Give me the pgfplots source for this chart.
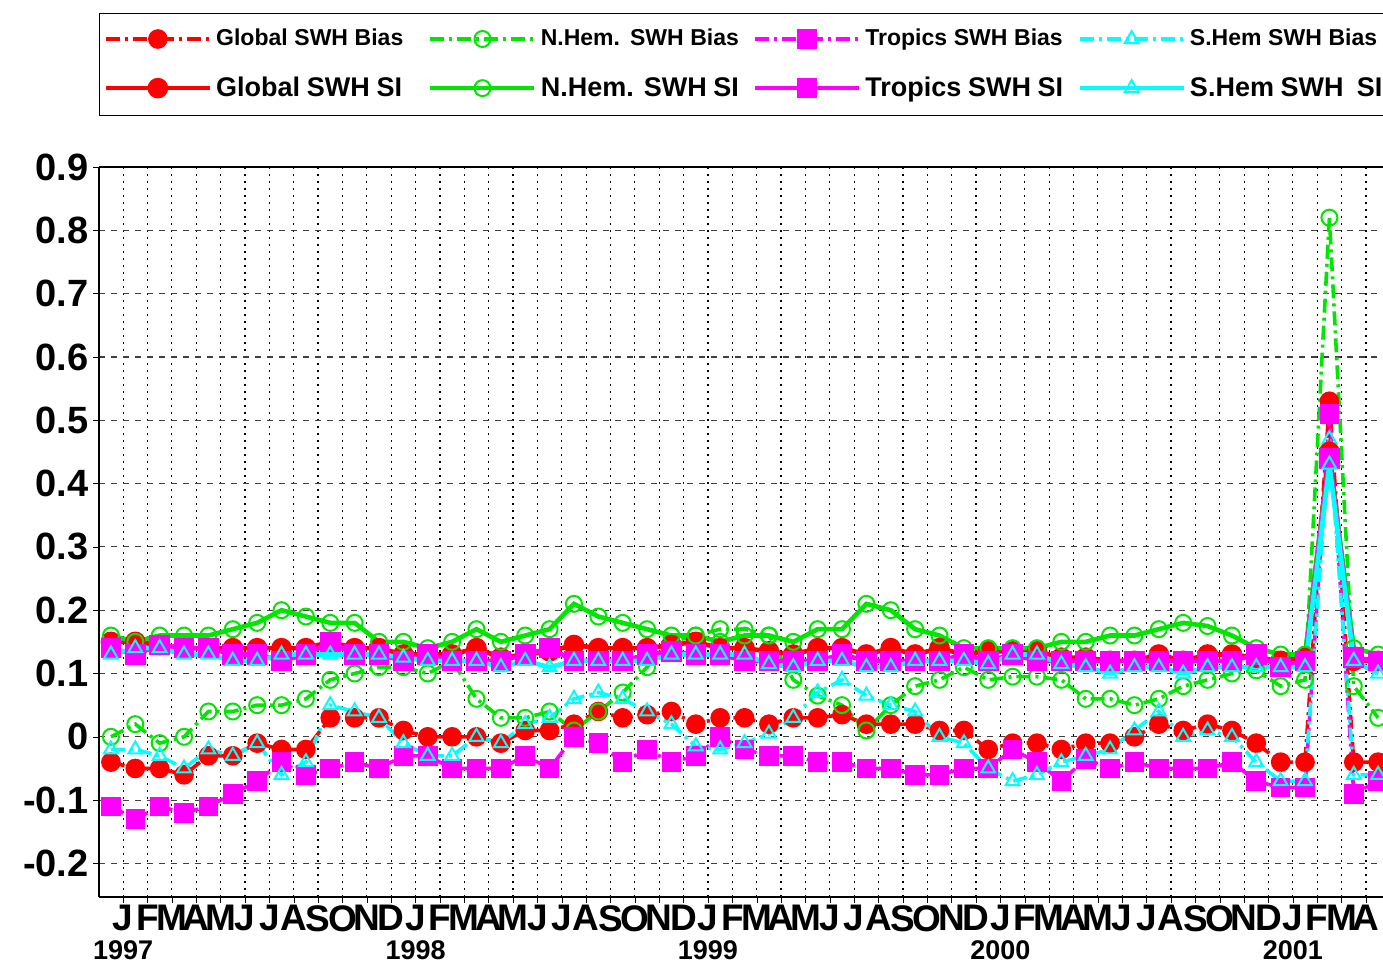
\documentclass[border=0pt]{standalone}
\usepackage{pgfplots}
\pgfplotsset{compat=1.18}
\usepackage{pgfplotstable}
\usepackage{fontspec}
\setmainfont{Liberation Sans}
\definecolor{cgreen}{RGB}{0,230,0}
\definecolor{cmag}{RGB}{255,0,255}
\definecolor{ccyan}{RGB}{0,255,255}
\definecolor{cred}{RGB}{255,0,0}
\pgfplotstableread{
k gb nb tb sb gs ns ts ss
0 -0.04 0.00 -0.11 -0.02 0.15 0.16 0.14 0.13
1 -0.05 0.02 -0.13 -0.02 0.15 0.15 0.13 0.14
2 -0.05 -0.01 -0.11 -0.03 0.145 0.16 0.145 0.14
3 -0.06 0.00 -0.12 -0.05 0.14 0.16 0.14 0.13
4 -0.03 0.04 -0.11 -0.02 0.14 0.16 0.14 0.13
5 -0.03 0.04 -0.09 -0.03 0.14 0.17 0.13 0.12
6 -0.01 0.05 -0.07 -0.01 0.14 0.18 0.13 0.12
7 -0.02 0.05 -0.04 -0.06 0.14 0.20 0.12 0.13
8 -0.02 0.06 -0.06 -0.04 0.14 0.19 0.13 0.13
9 0.03 0.09 -0.05 0.05 0.15 0.18 0.15 0.13
10 0.03 0.10 -0.04 0.04 0.14 0.18 0.13 0.13
11 0.03 0.11 -0.05 0.03 0.14 0.15 0.13 0.13
12 0.01 0.11 -0.03 -0.01 0.13 0.15 0.12 0.125
13 0.00 0.10 -0.03 -0.03 0.13 0.14 0.13 0.12
14 0.00 0.12 -0.05 -0.03 0.13 0.15 0.12 0.12
15 0.00 0.06 -0.05 0.00 0.14 0.17 0.12 0.12
16 -0.01 0.03 -0.05 -0.01 0.125 0.15 0.12 0.11
17 0.01 0.03 -0.03 0.02 0.13 0.16 0.13 0.12
18 0.01 0.04 -0.05 0.03 0.135 0.17 0.14 0.11
19 0.02 0.01 0.00 0.06 0.145 0.21 0.12 0.12
20 0.04 0.04 -0.01 0.07 0.14 0.19 0.12 0.12
21 0.03 0.07 -0.04 0.06 0.14 0.18 0.12 0.12
22 0.035 0.11 -0.02 0.04 0.14 0.17 0.13 0.12
23 0.04 0.15 -0.04 0.02 0.145 0.16 0.135 0.13
24 0.02 0.16 -0.03 -0.015 0.15 0.16 0.13 0.13
25 0.03 0.17 0.00 -0.02 0.14 0.15 0.13 0.13
26 0.03 0.17 -0.02 -0.01 0.14 0.16 0.12 0.13
27 0.02 0.16 -0.03 0.005 0.135 0.16 0.12 0.115
28 0.03 0.09 -0.03 0.03 0.13 0.15 0.12 0.11
29 0.03 0.065 -0.04 0.07 0.14 0.17 0.12 0.12
30 0.035 0.05 -0.04 0.09 0.14 0.17 0.13 0.12
31 0.02 0.01 -0.05 0.065 0.13 0.21 0.12 0.11
32 0.02 0.05 -0.05 0.05 0.14 0.20 0.12 0.11
33 0.02 0.08 -0.06 0.04 0.13 0.17 0.12 0.12
34 0.01 0.09 -0.06 0.00 0.14 0.16 0.12 0.12
35 0.01 0.11 -0.05 -0.01 0.13 0.14 0.13 0.12
36 -0.02 0.09 -0.05 -0.05 0.135 0.14 0.12 0.115
37 -0.01 0.095 -0.02 -0.07 0.135 0.14 0.13 0.13
38 -0.01 0.095 -0.04 -0.06 0.135 0.14 0.12 0.13
39 -0.02 0.09 -0.07 -0.04 0.125 0.15 0.12 0.115
40 -0.01 0.06 -0.035 -0.03 0.125 0.15 0.12 0.11
41 -0.01 0.06 -0.05 -0.02 0.12 0.16 0.12 0.10
42 0.00 0.05 -0.04 0.01 0.12 0.16 0.12 0.11
43 0.02 0.06 -0.05 0.04 0.13 0.17 0.12 0.11
44 0.01 0.08 -0.05 0.00 0.12 0.18 0.12 0.10
45 0.02 0.09 -0.05 0.01 0.13 0.175 0.12 0.11
46 0.01 0.10 -0.04 0.00 0.13 0.16 0.12 0.11
47 -0.01 0.105 -0.07 -0.04 0.125 0.14 0.13 0.11
48 -0.04 0.08 -0.08 -0.07 0.12 0.13 0.11 0.11
49 -0.04 0.09 -0.08 -0.07 0.125 0.13 0.12 0.11
50 0.53 0.82 0.51 0.47 0.45 0.44 0.44 0.43
51 -0.04 0.08 -0.09 -0.06 0.12 0.14 0.125 0.12
52 -0.04 0.03 -0.07 -0.06 0.12 0.13 0.12 0.10
}\data
\newcommand{\yr}[1]{J\\[-4pt]{\fontsize{13.5}{14}\selectfont #1}}
\tikzset{bias/.style={line width=1.8pt, dash pattern=on 7pt off 2.5pt on 1.5pt off 2.5pt}}
\begin{document}
\begin{tikzpicture}
\begin{axis}[
  scale only axis, width=642pt, height=365pt,
  at={(0,0)}, anchor=south west,
  xmin=-0.49, xmax=52.2, ymin=-0.253, ymax=0.9,
  axis line style={black, line width=0.8pt},
  ytick={-0.2,-0.1,0,0.1,0.2,0.3,0.4,0.5,0.6,0.7,0.8,0.9},
  yticklabel style={font=\fontsize{19}{19}\bfseries\selectfont, inner sep=2pt},
  /pgf/number format/assume math mode=true,
  /pgf/number format/fixed,
  ymajorgrids, major grid style={black!75, dashed, line width=0.6pt},
  xtick={0.5,1.5,...,51.5},
  xticklabels={\yr{1997},F,M,A,M,J,J,A,S,O,N,D,\yr{1998},F,M,A,M,J,J,A,S,O,N,D,\yr{1999},F,M,A,M,J,J,A,S,O,N,D,\yr{2000},F,M,A,M,J,J,A,S,O,N,D,\yr{2001},F,M,A},
  xticklabel style={font=\fontsize{18.5}{18.5}\bfseries\selectfont, align=center, anchor=north, inner sep=1pt},
  xmajorgrids,
  x grid style={black, line width=0.6pt, dash pattern=on 1pt off 2.5pt},
  tick align=outside, major tick length=3pt,
  tick style={black},
  xtick pos=bottom, ytick pos=left,
  axis x line*=bottom, axis y line*=left,
  clip=false,
  legend columns=4,
  legend style={at={(0,1)}, anchor=south west, yshift=25.5pt, draw=black, line width=0.6pt,
    inner xsep=2pt, inner ysep=6pt, row sep=10pt, column sep=0pt,
    nodes={text width=104pt, align=left, inner sep=2pt, font=\bfseries}},
  legend image code/.code={\draw[mark repeat=2,mark phase=2] plot coordinates {(0pt,0pt) (26pt,0pt) (52pt,0pt)};},
  every axis plot/.append style={mark size=4pt},
]
\draw[black, line width=0.8pt] (rel axis cs:0,1) -- (rel axis cs:1,1);
\addplot[cred, bias, mark=*, mark options={solid, fill=cred}] table[x=k,y=gb]{\data};
\addlegendentry{\fontsize{11.5}{12}\selectfont Global SWH Bias}
\addplot[cgreen, bias, mark=o, mark options={solid, line width=1pt}] table[x=k,y=nb]{\data};
\addlegendentry{\fontsize{11.5}{12}\selectfont N.Hem. SWH Bias}
\addplot[cmag, bias, mark=square*, mark options={solid, fill=cmag}] table[x=k,y=tb]{\data};
\addlegendentry{\fontsize{11.5}{12}\selectfont Tropics SWH Bias}
\addplot[ccyan, bias, mark=triangle, mark options={solid, line width=1pt, fill=none}] table[x=k,y=sb]{\data};
\addlegendentry{\fontsize{11.5}{12}\selectfont S.Hem SWH Bias}
\addplot[cred, line width=2.3pt, mark=*, mark options={fill=cred}] table[x=k,y=gs]{\data};
\addlegendentry{\fontsize{13.5}{14}\selectfont Global SWH SI}
\addplot[cgreen, line width=2.3pt, mark=o, mark options={line width=1pt}] table[x=k,y=ns]{\data};
\addlegendentry{\fontsize{13.5}{14}\selectfont N.Hem. SWH SI}
\addplot[cmag, line width=2.3pt, mark=square*, mark options={fill=cmag}] table[x=k,y=ts]{\data};
\addlegendentry{\fontsize{13.5}{14}\selectfont Tropics SWH SI}
\addplot[ccyan, line width=2.3pt, mark=triangle, mark options={line width=1pt, fill=none}] table[x=k,y=ss]{\data};
\addlegendentry{\fontsize{13.5}{14}\selectfont S.Hem SWH\ \ SI}
\end{axis}
\pgfresetboundingbox
\path (-49.5pt,-33.5pt) rectangle (642pt,448.5pt);
\end{tikzpicture}
\end{document}
